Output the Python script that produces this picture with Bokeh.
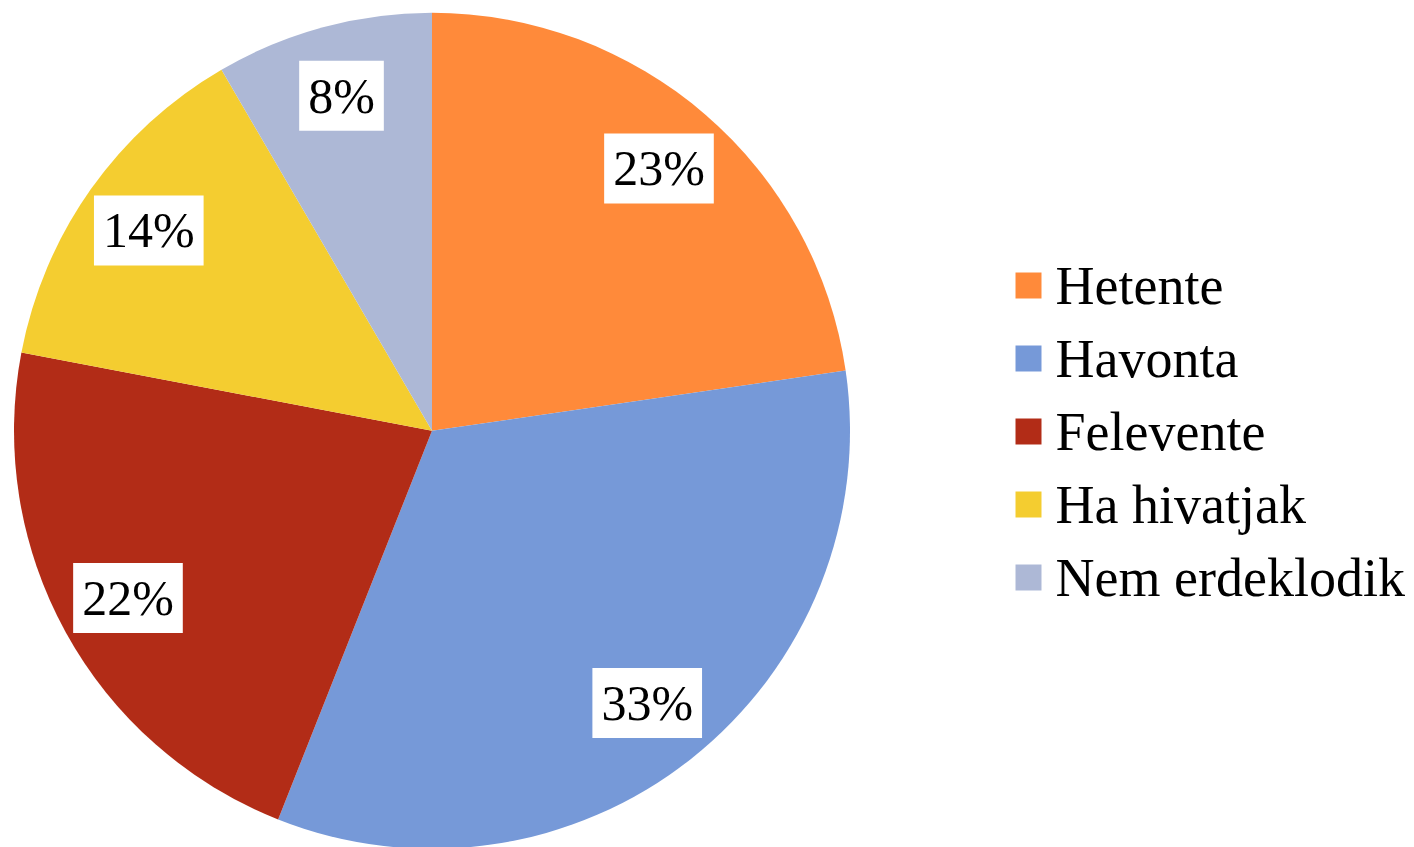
import math
from bokeh.plotting import figure
from bokeh.models import Range1d, ColumnDataSource
from bokeh.core.properties import value
from bokeh.embed import file_html
from bokeh.resources import INLINE

# ---- data ----
categories = ["Hetente", "Havonta", "Felevente", "Ha hivatjak", "Nem erdeklodik"]
shares = [22.7, 33.3, 22.0, 13.6, 8.4]
colors = ["#FF8A3A", "#7699D8", "#B22C17", "#F4CD30", "#ADB8D6"]

FONT = "Liberation Serif"

W, H = 1414, 847
p = figure(width=W, height=H, output_backend="svg", toolbar_location=None,
           x_range=Range1d(0, W), y_range=Range1d(0, H),
           min_border=0, outline_line_color=None,
           x_axis_location=None, y_axis_location=None)
p.grid.visible = False
p.background_fill_color = "white"
p.border_fill_color = "white"

cx, cy, R = 431.5, H - 430.3, 418.0

total = sum(shares)
starts, ends, mids = [], [], []
acc = 0.0
for s in shares:
    a0 = math.pi / 2 - 2 * math.pi * acc / total
    acc += s
    a1 = math.pi / 2 - 2 * math.pi * acc / total
    starts.append(a0)
    ends.append(a1)
    mids.append((a0 + a1) / 2)

src = ColumnDataSource(dict(start=starts, end=ends, color=colors, cat=categories))
p.wedge(x=cx, y=cy, radius=R, start_angle="start", end_angle="end",
        direction="clock", fill_color="color", line_color=None, source=src)

# labels
lf = 0.83
lx = [cx + lf * R * math.cos(m) for m in mids]
ly = [cy + lf * R * math.sin(m) for m in mids]
lt = [f"{round(s)}%" for s in shares]
p.text(x=lx, y=ly, text=lt, text_align="center", text_baseline="middle",
       text_font=value(FONT), text_font_size="50px", text_color="black",
       background_fill_color="white",
       padding=dict(left=9, right=9, top=7, bottom=7))

# legend
leg_x = 1028
leg_y0 = H - 285
step = 73
ys = [leg_y0 - i * step for i in range(len(categories))]
p.scatter(x=[leg_x] * len(categories), y=ys, marker="square", size=26,
          fill_color=colors, line_color=None)
p.text(x=[1055] * len(categories), y=ys, text=categories, text_align="left",
       text_baseline="middle", text_font=value(FONT), text_font_size="54px",
       text_color="black")

open("out.html", "w").write(file_html(p, INLINE))
